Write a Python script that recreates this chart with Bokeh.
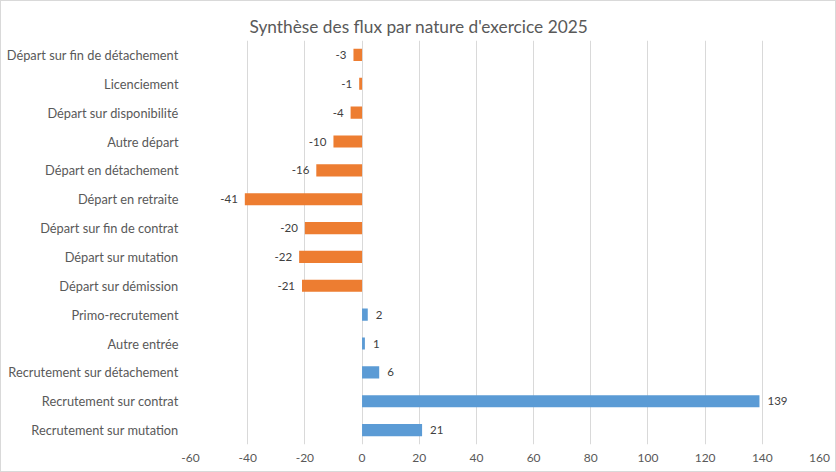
from bokeh.plotting import figure
from bokeh.models import Range1d, FixedTicker, ColumnDataSource
from bokeh.core.properties import value
from bokeh.embed import file_html
from bokeh.resources import INLINE

# Data (top to bottom as shown)
categories = [
    "Départ sur fin de détachement",
    "Licenciement",
    "Départ sur disponibilité",
    "Autre départ",
    "Départ en détachement",
    "Départ en retraite",
    "Départ sur fin de contrat",
    "Départ sur mutation",
    "Départ sur démission",
    "Primo-recrutement",
    "Autre entrée",
    "Recrutement sur détachement",
    "Recrutement sur contrat",
    "Recrutement sur mutation",
]
values = [-3, -1, -4, -10, -16, -41, -20, -22, -21, 2, 1, 6, 139, 21]
x_ticks = [-60, -40, -20, 0, 20, 40, 60, 80, 100, 120, 140, 160]
title_text = "Synthèse des flux par nature d'exercice 2025"

NEG_COLOR = "#ED7D31"
POS_COLOR = "#5B9BD5"
FONT = "Lato"

colors = [NEG_COLOR if v < 0 else POS_COLOR for v in values]
labels = [str(v) for v in values]

src = ColumnDataSource(dict(cat=categories, val=values, color=colors, lab=labels))
neg = ColumnDataSource(dict(
    cat=[c for c, v in zip(categories, values) if v < 0],
    val=[v for v in values if v < 0],
    lab=[str(v) for v in values if v < 0]))
pos = ColumnDataSource(dict(
    cat=[c for c, v in zip(categories, values) if v >= 0],
    val=[v for v in values if v >= 0],
    lab=[str(v) for v in values if v >= 0]))

p = figure(
    width=836, height=472,
    y_range=list(reversed(categories)),
    x_range=Range1d(x_ticks[0], x_ticks[-1]),
    output_backend="svg", toolbar_location=None,
    min_border_left=189, min_border_right=18,
    min_border_top=39, min_border_bottom=29,
)
p.title.text = title_text
p.title.align = "left"
p.title.offset = 59
p.title.standoff = 8
p.title.text_font = FONT
p.title.text_font_size = "17.3px"
p.title.text_font_style = "normal"
p.title.text_color = "#595959"

p.outline_line_color = None
p.border_fill_color = "white"
p.background_fill_color = "white"

p.hbar(y="cat", right="val", left=0, height=0.42, color="color", line_color=None, source=src)

p.text(x="val", y="cat", text="lab", source=neg, text_align="right", text_baseline="middle",
       x_offset=-7, text_font=value(FONT), text_font_size="11.5px", text_color="#404040")
p.text(x="val", y="cat", text="lab", source=pos, text_align="left", text_baseline="middle",
       x_offset=8, text_font=value(FONT), text_font_size="11.5px", text_color="#404040")

# axes
p.xaxis.ticker = FixedTicker(ticks=x_ticks)
p.xaxis.major_label_overrides = {t: str(t) for t in x_ticks}
p.xaxis.axis_line_color = None
p.xaxis.major_tick_line_color = None
p.xaxis.major_tick_out = 0
p.xaxis.major_tick_in = 0
p.xaxis.minor_tick_line_color = None
p.xaxis.major_label_text_font = FONT
p.xaxis.major_label_text_font_size = "12px"
p.xaxis.major_label_text_color = "#595959"
p.xaxis.major_label_standoff = 9

p.yaxis.axis_line_color = None
p.yaxis.major_tick_line_color = None
p.yaxis.major_tick_out = 0
p.yaxis.major_tick_in = 0
p.yaxis.minor_tick_line_color = None
p.yaxis.major_label_text_font = FONT
p.yaxis.major_label_text_font_size = "12.8px"
p.yaxis.major_label_text_color = "#595959"
p.yaxis.major_label_standoff = 12

p.xgrid.grid_line_color = "#d9d9d9"
p.ygrid.grid_line_color = None

p.styles = {"border": "1px solid #d9d9d9", "box-sizing": "border-box"}

open("out.html", "w").write(file_html(p, INLINE))
